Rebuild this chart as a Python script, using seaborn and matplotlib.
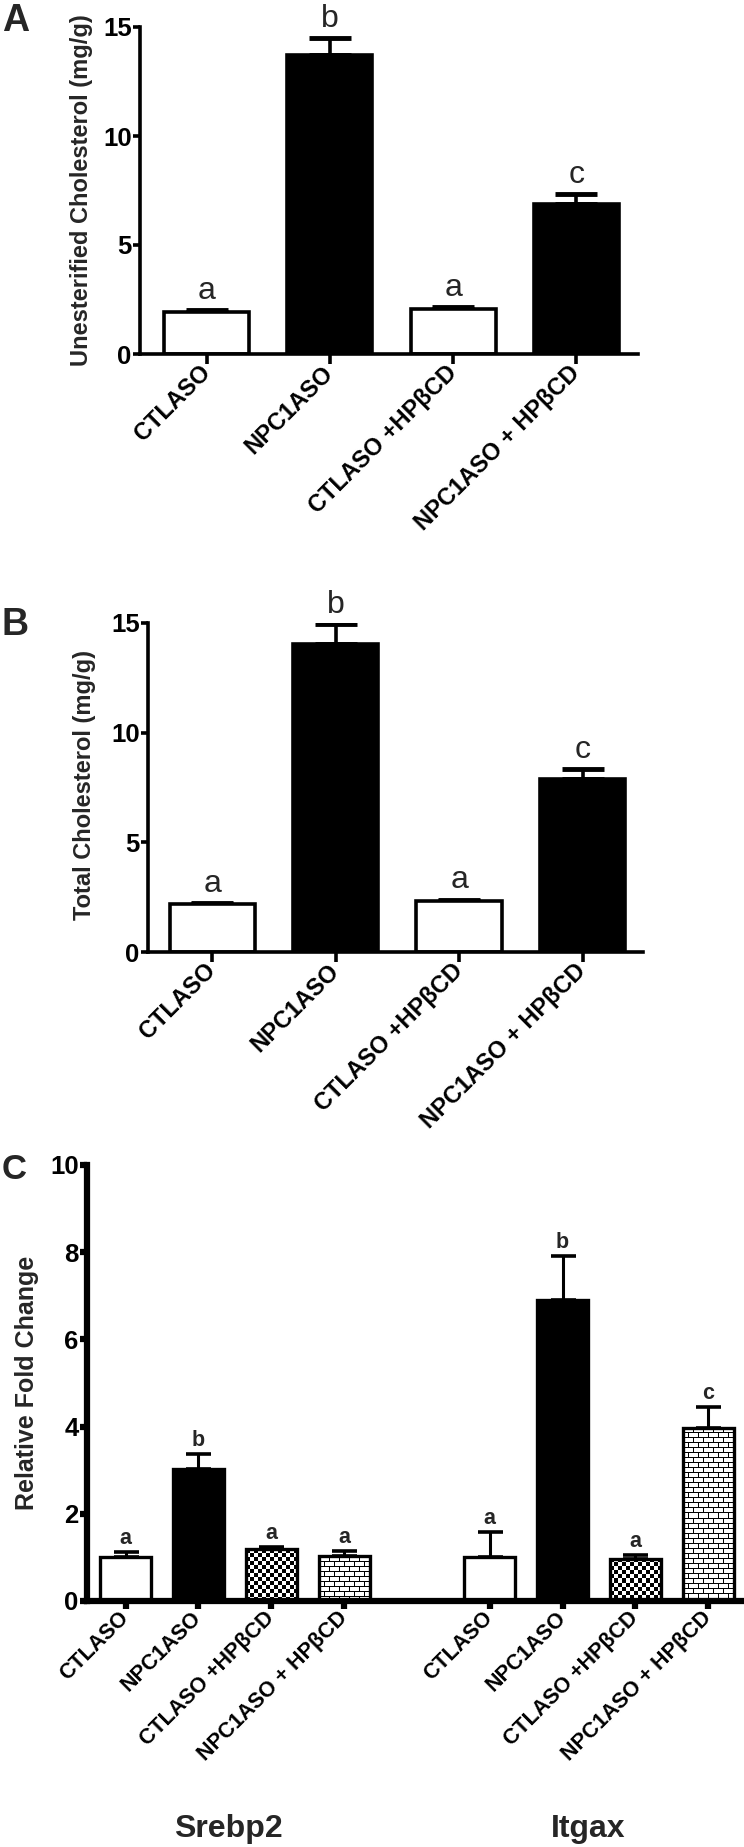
# ===== IMPORT LIBRARIES =====
import numpy as np
import pandas as pd
import matplotlib
matplotlib.use("Agg")
import matplotlib.pyplot as plt
import seaborn as sns

# ===== DATA =====
groups = ["CTLASO", "NPC1ASO", "CTLASO +HPβCD", "NPC1ASO + HPβCD"]

unest_mean = [1.93, 13.70, 2.06, 6.86]
unest_sem = [0.08, 0.78, 0.10, 0.46]
unest_letters = ["a", "b", "a", "c"]

total_mean = [2.18, 14.06, 2.33, 7.90]
total_sem = [0.07, 0.88, 0.06, 0.46]
total_letters = ["a", "b", "a", "c"]

genes = ["Srebp2", "Itgax"]
srebp2_mean = [1.01, 3.03, 1.19, 1.03]
srebp2_sem = [0.11, 0.34, 0.05, 0.12]
srebp2_letters = ["a", "b", "a", "a"]
itgax_mean = [1.01, 6.90, 0.97, 3.97]
itgax_sem = [0.57, 1.01, 0.08, 0.48]
itgax_letters = ["a", "b", "a", "c"]

# ===== STYLE =====
sns.set_theme(style="ticks")
narrow = ["Liberation Sans Narrow", "Liberation Sans", "DejaVu Sans"]
plt.rcParams["font.family"] = ["Liberation Sans", "DejaVu Sans"]

W, H = 744, 1847
fig = plt.figure(figsize=(W / 100, H / 100), dpi=100)


def px_axes(left, right, top, bottom):
    return fig.add_axes([left / W, 1 - bottom / H, (right - left) / W, (bottom - top) / H])


def style_axis(ax, lw, ylen, xlen, xw):
    sns.despine(ax=ax)
    for s in ["left", "bottom"]:
        ax.spines[s].set_linewidth(lw)
        ax.spines[s].set_color("black")
    ax.tick_params(axis="y", direction="out", length=ylen, width=lw, pad=1, colors="black")
    ax.tick_params(axis="x", direction="out", length=xlen, width=xw, pad=4, colors="black")
    ax.set_xlabel("")
    ax.set_ylabel("")
    for t in ax.get_yticklabels():
        t.set_fontfamily(narrow)
        t.set_fontweight("bold")
        t.set_fontsize(18.5)


def texture(kind, w_px, h_px):
    # checkerboard / brick fill, one array cell per screen pixel
    yy, xx = np.mgrid[0:h_px, 0:w_px]
    if kind == "checker":
        return ((xx // 4 + yy // 4) % 2).astype(float)
    arr = np.ones((h_px, w_px))
    row = yy // 5
    arr[yy % 5 == 0] = 0
    arr[(xx + (row % 2) * 5) % 10 == 0] = 0
    return arr


def cholesterol_panel(ax, means, sems, letters, xlim):
    sns.barplot(x=groups, y=means, hue=groups, palette=["white", "black", "white", "black"],
                saturation=1, legend=False, errorbar=None, width=0.69,
                edgecolor="black", linewidth=2.6, ax=ax)
    x = np.arange(len(groups))
    ax.errorbar(x, means, yerr=[np.zeros(len(x)), sems], fmt="none", ecolor="black",
                elinewidth=2.6, capsize=15, capthick=3.5, zorder=0)
    for xi, m, s, lt in zip(x, means, sems, letters):
        ax.annotate(lt, xy=(xi, m + s), xytext=(0, 8), textcoords="offset points",
                    ha="center", va="baseline", fontsize=23, family=narrow, annotation_clip=False)
    ax.set_ylim(0, 15)
    ax.set_yticks([0, 5, 10, 15])
    ax.set_xlim(*xlim)
    style_axis(ax, 2.6, 5, 7, 2.6)
    ax.set_xticks(x)
    ax.set_xticklabels(groups, rotation=45, ha="right", va="center", rotation_mode="anchor",
                       fontsize=17, fontweight="bold")


# ===== PANEL A =====
axA = px_axes(140, 638, 27, 354)
cholesterol_panel(axA, unest_mean, unest_sem, unest_letters, (-0.54, 3.5))
fig.text(82 / W, 1 - 190 / H, "Unesterified Cholesterol (mg/g)", rotation=90,
         ha="center", va="center", fontsize=17, fontweight="bold")
fig.text(2 / W, 1 - 3 / H, "A", ha="left", va="top", fontsize=27, fontweight="bold", family=narrow)

# ===== PANEL B =====
axB = px_axes(148, 643, 623, 952)
cholesterol_panel(axB, total_mean, total_sem, total_letters, (-0.52, 3.49))
fig.text(85 / W, 1 - 785 / H, "Total Cholesterol (mg/g)", rotation=90,
         ha="center", va="center", fontsize=17, fontweight="bold")
fig.text(2 / W, 1 - 607 / H, "B", ha="left", va="top", fontsize=27, fontweight="bold", family=narrow)

# ===== PANEL C =====
axC = px_axes(87, 744, 1165, 1601)
pos_c = [0, 1, 2, 3, 5, 6, 7, 8]
kind_c = groups * 2
df_c = pd.DataFrame({
    "pos": pos_c,
    "mean": srebp2_mean + itgax_mean,
    "sem": srebp2_sem + itgax_sem,
    "letter": srebp2_letters + itgax_letters,
    "kind": kind_c,
})
sns.barplot(data=df_c, x="pos", y="mean", hue="kind", native_scale=True, dodge=False,
            palette=["white", "black", "white", "white"], hue_order=groups, saturation=1,
            legend=False, errorbar=None, width=0.7, edgecolor="black", linewidth=2.4, ax=axC)
axC.set_ylim(0, 10)
axC.set_xlim(-0.53, 8.49)

fill_for = {"CTLASO +HPβCD": "checker", "NPC1ASO + HPβCD": "brick"}
for p in list(axC.patches):
    cx = p.get_x() + p.get_width() / 2
    i = int(np.argmin(np.abs(np.array(pos_c) - cx)))
    kind = fill_for.get(kind_c[i])
    if kind is None:
        continue
    x0, y0 = p.get_x(), p.get_y()
    x1, y1 = x0 + p.get_width(), y0 + p.get_height()
    (px0, py0), (px1, py1) = axC.transData.transform([[x0, y0], [x1, y1]])
    img = axC.imshow(texture(kind, int(round(px1 - px0)), int(round(py1 - py0))),
                     extent=(x0, x1, y0, y1), cmap="gray", vmin=0, vmax=1,
                     interpolation="nearest", aspect="auto", zorder=p.get_zorder() - 0.05)
    img.set_clip_path(p)
    p.set_facecolor("none")

axC.errorbar(df_c["pos"], df_c["mean"], yerr=[np.zeros(len(df_c)), df_c["sem"]], fmt="none",
             ecolor="black", elinewidth=2.2, capsize=9, capthick=2.6, zorder=0)
for xi, m, s, lt in zip(df_c["pos"], df_c["mean"], df_c["sem"], df_c["letter"]):
    axC.annotate(lt, xy=(xi, m + s), xytext=(0, 6), textcoords="offset points",
                 ha="center", va="baseline", fontsize=15.5, fontweight="bold", family=narrow,
                 annotation_clip=False)
axC.set_ylim(0, 10)
axC.set_xlim(-0.53, 8.49)
axC.set_yticks([0, 2, 4, 6, 8, 10])
style_axis(axC, 4.5, 5, 6, 4.5)
axC.set_xticks(pos_c)
axC.set_xticklabels(kind_c, rotation=45, ha="right", va="center", rotation_mode="anchor",
                    fontsize=15.5, fontweight="bold")
fig.text(27 / W, 1 - 1383 / H, "Relative Fold Change", rotation=90,
         ha="center", va="center", fontsize=18, fontweight="bold")
fig.text(2 / W, 1 - 1153 / H, "C", ha="left", va="top", fontsize=25, fontweight="bold", family=narrow)
for g, cx in zip(genes, [228, 588]):
    fig.text(cx / W, 1 - 1837 / H, g, ha="center", va="baseline", fontsize=23,
             fontweight="bold", family=narrow)

fig.savefig("out.png", dpi=100)
